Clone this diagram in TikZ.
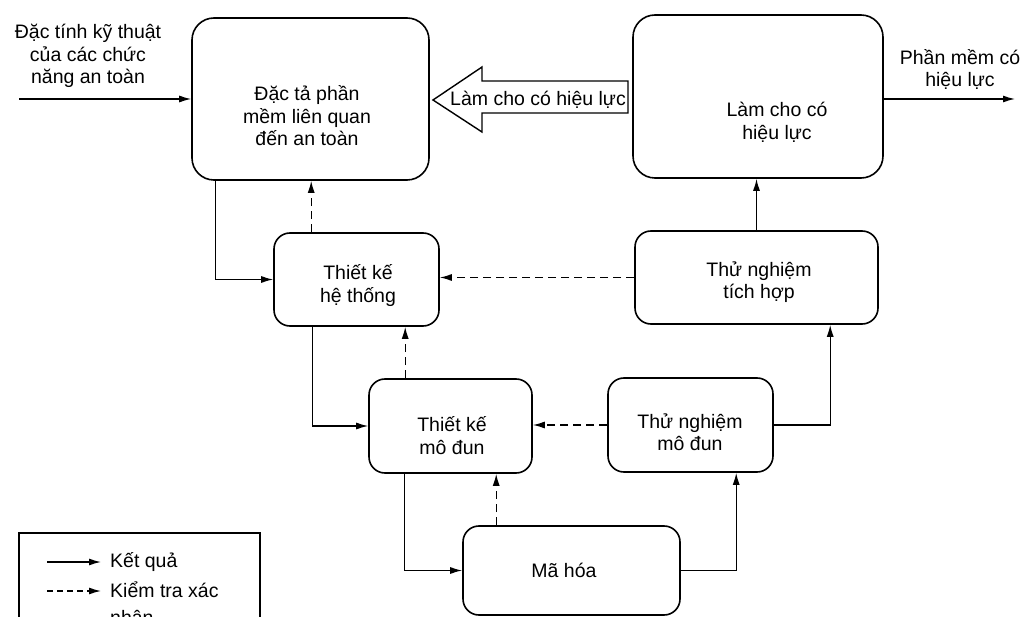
\documentclass[tikz,border=0pt]{standalone}
\usepackage{fontspec}
\setmainfont{Liberation Sans}
\usetikzlibrary{arrows.meta}
\tikzset{
  stage/.style={draw, line width=1.6pt, rounded corners=16pt, inner sep=0pt},
  bigstage/.style={stage, rounded corners=22pt},
  txt/.style={align=center, inner sep=0pt, font=\fontsize{19.5}{22.5}\selectfont},
  ltxt/.style={anchor=west, align=left, inner sep=0pt, font=\fontsize{19.5}{22.5}\selectfont},
  res/.style={line width=1.3pt, -{Latex[length=12pt,width=7pt]}},
  ver/.style={res, dash pattern=on 8pt off 5pt},
}
\begin{document}
\begin{tikzpicture}[x=1pt,y=-1pt]
\useasboundingbox (0,0) rectangle (1025,617);
\clip (0,0) rectangle (1025,617);

% process stages
\node[bigstage, minimum width=237pt, minimum height=162pt] (A) at (310.5,99) {};
\node[bigstage, minimum width=250pt, minimum height=163pt] (V) at (758,96.5) {};
\node[stage, minimum width=165pt, minimum height=93pt] (SD) at (356.5,279.5) {};
\node[stage, minimum width=243pt, minimum height=93pt] (IT) at (756.5,277.5) {};
\node[stage, minimum width=163pt, minimum height=94pt] (MD) at (450.5,426) {};
\node[stage, minimum width=165pt, minimum height=94pt] (MT) at (690.5,425) {};
\node[stage, minimum width=217pt, minimum height=89pt] (C) at (571.5,570.5) {};

% stage labels
\node[txt] (At) at (307,116) {Đặc tả phần\\mềm liên quan\\đến an toàn};
\node[txt] (Vt) at (777,122.5) {Làm cho có\\hiệu lực};
\node[txt] (SDt) at (358,285.5) {Thiết kế\\hệ thống};
\node[txt] (ITt) at (759,282) {Thử nghiệm\\tích hợp};
\node[txt] (MDt) at (452,435.5) {Thiết kế\\mô đun};
\node[txt] (MTt) at (690,432) {Thử nghiệm\\mô đun};
\node[txt] (Ct) at (564,570) {Mã hóa};

% external input and output
\node[txt] (inT) at (88,56) {Đặc tính kỹ thuật\\của các chức\\năng an toàn};
\node[txt] (outT) at (960,69.5) {Phần mềm có\\hiệu lực};
\coordinate (in) at (19,99);
\coordinate (out) at (1015,99);
\draw[res] (in) -- (in -| A.west);
\draw[res] (out -| V.east) -- (out);

% hollow validation arrow
\draw[line width=1.4pt, line join=miter]
  (628,81) -- (482,81) -- (482,67) -- (433,100) -- (482,132) -- (482,113) -- (628,113) -- cycle;
\node[txt] (Ht) at (538,100) {Làm cho có hiệu lực};

% result flow
\coordinate (a1) at ([xshift=24pt]A.south west);
\draw[res] (a1) |- (SD.west);
\coordinate (s1) at ([xshift=39pt]SD.south west);
\draw[res] (s1) |- (MD.west);
\coordinate (m1) at ([xshift=36pt]MD.south west);
\draw[res] (m1) |- (C.west);
\coordinate (t1) at ([xshift=129pt]MT.south west);
\draw[res] (C.east) -| (t1);
\coordinate (i1) at ([xshift=196pt]IT.south west);
\draw[res] (MT.east) -| (i1);
\draw[res] (IT.north) -- (IT.north |- V.south);

% verification flow
\coordinate (s2) at ([xshift=38pt]SD.north west);
\draw[ver] (s2) -- (s2 |- A.south);
\coordinate (m2) at ([xshift=37pt]MD.north west);
\draw[ver] (m2) -- (m2 |- SD.south);
\coordinate (c2) at ([xshift=34pt]C.north west);
\draw[ver] (c2) -- (c2 |- MD.south);
\draw[ver] (IT.west) -- (IT.west -| SD.east);
\draw[ver] (MT.west) -- (MT.west -| MD.east);

% legend
\draw[line width=1.4pt] (19,533) rectangle (260,660);
\coordinate (l1a) at (47,562);
\coordinate (l1b) at (101,562);
\coordinate (l2a) at (47,591);
\coordinate (l2b) at (101,591);
\draw[res] (l1a) -- (l1b);
\draw[ver, dash pattern=on 6pt off 4pt] (l2a) -- (l2b);
\node[ltxt] (k1) at (110,562) {Kết quả};
\node[ltxt, anchor=north west, font=\fontsize{19.5}{27}\selectfont] (k2) at (110,582) {Kiểm tra xác\\nhận};
\end{tikzpicture}
\end{document}
